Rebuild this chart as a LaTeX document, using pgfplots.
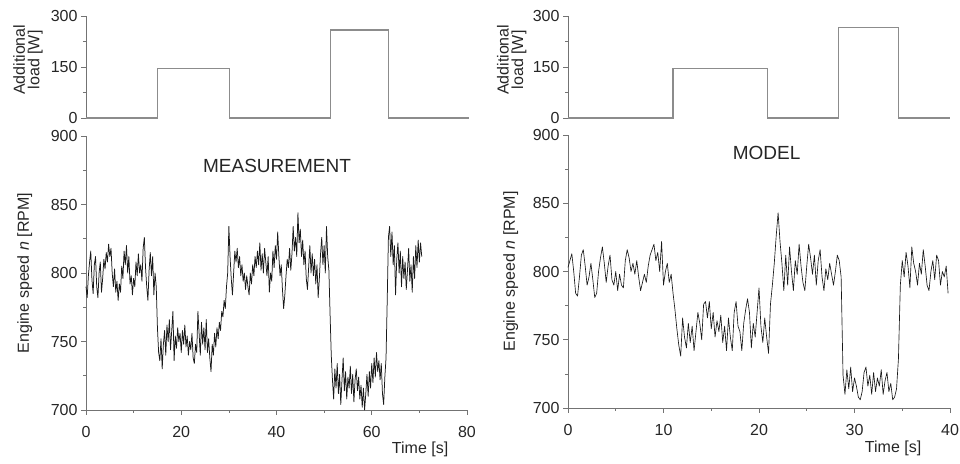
\documentclass[border=0pt]{standalone}
\usepackage{pgfplots}
\pgfplotsset{compat=1.18}
\usepackage{pgfplotstable}
\usepackage{fontspec}
\setmainfont{Liberation Sans}

\pgfplotstableread[row sep=\\]{
t n\\
0 790\\ 0.25 782\\ 0.5 798\\ 0.75 808\\ 1.0 816\\ 1.25 795\\ 1.5 785\\ 1.75 806\\ 2.0 812\\ 2.25 790\\
2.5 782\\ 2.75 800\\ 3.0 808\\ 3.25 786\\ 3.5 796\\ 3.75 810\\ 4.0 803\\ 4.25 815\\ 4.5 808\\ 4.75 821\\
5.0 812\\ 5.25 818\\ 5.5 800\\ 5.75 790\\ 6.0 803\\ 6.25 786\\ 6.5 794\\ 6.75 780\\ 7.0 792\\ 7.25 786\\
7.5 805\\ 7.75 796\\ 8.0 816\\ 8.25 806\\ 8.5 820\\ 8.75 800\\ 9.0 812\\ 9.25 792\\ 9.5 798\\ 9.75 784\\
10.0 796\\ 10.25 790\\ 10.5 808\\ 10.75 798\\ 11.0 814\\ 11.25 800\\ 11.5 806\\ 11.75 794\\ 12.0 818\\ 12.25 826\\
12.5 804\\ 12.75 790\\ 13.0 780\\ 13.25 802\\ 13.5 815\\ 13.75 798\\ 14.0 812\\ 14.25 784\\ 14.5 800\\ 14.75 790\\
15.0 760\\ 15.25 742\\ 15.5 736\\ 15.75 752\\ 16.0 730\\ 16.25 748\\ 16.5 758\\ 16.75 740\\ 17.0 762\\ 17.25 750\\
17.5 766\\ 17.75 744\\ 18.0 758\\ 18.25 772\\ 18.5 736\\ 18.75 754\\ 19.0 745\\ 19.25 760\\ 19.5 750\\ 19.75 756\\
20.0 742\\ 20.25 758\\ 20.5 748\\ 20.75 762\\ 21.0 746\\ 21.25 754\\ 21.5 740\\ 21.75 750\\ 22.0 744\\ 22.25 756\\
22.5 738\\ 22.75 734\\ 23.0 748\\ 23.25 742\\ 23.5 772\\ 23.75 756\\ 24.0 740\\ 24.25 764\\ 24.5 748\\ 24.75 760\\
25.0 744\\ 25.25 766\\ 25.5 742\\ 25.75 752\\ 26.0 738\\ 26.25 728\\ 26.5 748\\ 26.75 740\\ 27.0 756\\ 27.25 746\\
27.5 760\\ 27.75 752\\ 28.0 764\\ 28.25 758\\ 28.5 772\\ 28.75 768\\ 29.0 780\\ 29.25 774\\ 29.5 790\\ 29.75 800\\
30.0 834\\ 30.25 812\\ 30.5 796\\ 30.75 784\\ 31.0 800\\ 31.25 816\\ 31.5 808\\ 31.75 818\\ 32.0 804\\ 32.25 812\\
32.5 798\\ 32.75 806\\ 33.0 794\\ 33.25 800\\ 33.5 788\\ 33.75 798\\ 34.0 790\\ 34.25 784\\ 34.5 800\\ 34.75 792\\
35.0 806\\ 35.25 798\\ 35.5 812\\ 35.75 804\\ 36.0 816\\ 36.25 806\\ 36.5 822\\ 36.75 802\\ 37.0 814\\ 37.25 800\\
37.5 818\\ 37.75 808\\ 38.0 798\\ 38.25 812\\ 38.5 786\\ 38.75 800\\ 39.0 794\\ 39.25 816\\ 39.5 804\\ 39.75 820\\
40.0 810\\ 40.25 830\\ 40.5 812\\ 40.75 798\\ 41.0 806\\ 41.25 788\\ 41.5 774\\ 41.75 784\\ 42.0 798\\ 42.25 810\\
42.5 804\\ 42.75 818\\ 43.0 802\\ 43.25 814\\ 43.5 834\\ 43.75 816\\ 44.0 826\\ 44.25 812\\ 44.5 844\\ 44.75 822\\
45.0 832\\ 45.25 812\\ 45.5 824\\ 45.75 806\\ 46.0 816\\ 46.25 796\\ 46.5 788\\ 46.75 804\\ 47.0 820\\ 47.25 800\\
47.5 814\\ 47.75 798\\ 48.0 810\\ 48.25 792\\ 48.5 806\\ 48.75 782\\ 49.0 796\\ 49.25 814\\ 49.5 826\\ 49.75 806\\
50.0 820\\ 50.25 800\\ 50.5 834\\ 50.75 812\\ 51.0 802\\ 51.25 770\\ 51.5 740\\ 51.75 722\\ 52.0 708\\ 52.25 730\\
52.5 716\\ 52.75 734\\ 53.0 712\\ 53.25 726\\ 53.5 704\\ 53.75 722\\ 54.0 738\\ 54.25 714\\ 54.5 728\\ 54.75 708\\
55.0 724\\ 55.25 716\\ 55.5 732\\ 55.75 712\\ 56.0 726\\ 56.25 706\\ 56.5 722\\ 56.75 730\\ 57.0 714\\ 57.25 724\\
57.5 708\\ 57.75 718\\ 58.0 702\\ 58.25 716\\ 58.5 700\\ 58.75 712\\ 59.0 726\\ 59.25 710\\ 59.5 728\\ 59.75 716\\
60.0 734\\ 60.25 720\\ 60.5 738\\ 60.75 724\\ 61.0 742\\ 61.25 728\\ 61.5 736\\ 61.75 722\\ 62.0 734\\ 62.25 712\\
62.5 704\\ 62.75 724\\ 63.0 738\\ 63.25 780\\ 63.5 826\\ 63.75 834\\ 64.0 812\\ 64.25 830\\ 64.5 806\\ 64.75 820\\
65.0 784\\ 65.25 810\\ 65.5 822\\ 65.75 800\\ 66.0 816\\ 66.25 790\\ 66.5 812\\ 66.75 796\\ 67.0 808\\ 67.25 788\\
67.5 802\\ 67.75 818\\ 68.0 794\\ 68.25 806\\ 68.5 786\\ 68.75 812\\ 69.0 796\\ 69.25 820\\ 69.5 804\\ 69.75 824\\
70.0 808\\ 70.25 822\\ 70.5 812\\
}\measdata

\pgfplotstableread[row sep=\\]{
t n\\
0.0 803\\ 0.2 808\\ 0.4 813\\ 0.6 800\\ 0.8 784\\ 1.0 782\\ 1.2 796\\ 1.4 812\\ 1.6 816\\ 1.8 804\\
2.0 790\\ 2.2 796\\ 2.4 806\\ 2.6 794\\ 2.8 781\\ 3.0 784\\ 3.2 800\\ 3.4 810\\ 3.6 818\\ 3.8 806\\
4.0 792\\ 4.2 804\\ 4.4 812\\ 4.6 794\\ 4.8 790\\ 5.0 800\\ 5.2 786\\ 5.4 798\\ 5.6 790\\ 5.8 788\\
6.0 808\\ 6.2 816\\ 6.4 810\\ 6.6 800\\ 6.8 806\\ 7.0 798\\ 7.2 808\\ 7.4 796\\ 7.6 786\\ 7.8 792\\
8.0 798\\ 8.2 792\\ 8.4 804\\ 8.6 812\\ 8.8 816\\ 9.0 820\\ 9.2 808\\ 9.4 814\\ 9.6 800\\ 9.8 822\\
10.0 790\\ 10.2 800\\ 10.4 806\\ 10.6 792\\ 10.8 798\\ 11.0 784\\ 11.2 772\\ 11.4 758\\ 11.6 746\\ 11.8 738\\
12.0 766\\ 12.2 752\\ 12.4 744\\ 12.6 762\\ 12.8 748\\ 13.0 760\\ 13.2 742\\ 13.4 756\\ 13.6 770\\ 13.8 762\\
14.0 750\\ 14.2 776\\ 14.4 778\\ 14.6 766\\ 14.8 778\\ 15.0 758\\ 15.2 770\\ 15.4 752\\ 15.6 764\\ 15.8 756\\
16.0 768\\ 16.2 748\\ 16.4 760\\ 16.6 742\\ 16.8 766\\ 17.0 752\\ 17.2 742\\ 17.4 770\\ 17.6 778\\ 17.8 760\\
18.0 756\\ 18.2 742\\ 18.4 762\\ 18.6 772\\ 18.8 780\\ 19.0 770\\ 19.2 744\\ 19.4 762\\ 19.6 752\\ 19.8 770\\
20.0 788\\ 20.2 760\\ 20.4 748\\ 20.6 766\\ 20.8 752\\ 21.0 740\\ 21.2 776\\ 21.4 790\\ 21.6 806\\ 21.8 826\\
22.0 843\\ 22.2 822\\ 22.4 806\\ 22.6 786\\ 22.8 812\\ 23.0 790\\ 23.2 818\\ 23.4 800\\ 23.6 786\\ 23.8 808\\
24.0 798\\ 24.2 820\\ 24.4 804\\ 24.6 792\\ 24.8 786\\ 25.0 804\\ 25.2 820\\ 25.4 810\\ 25.6 798\\ 25.8 812\\
26.0 790\\ 26.2 808\\ 26.4 816\\ 26.6 796\\ 26.8 786\\ 27.0 802\\ 27.2 794\\ 27.4 806\\ 27.6 798\\ 27.8 790\\
28.0 800\\ 28.2 812\\ 28.4 808\\ 28.6 796\\ 28.8 724\\ 29.0 710\\ 29.2 728\\ 29.4 714\\ 29.6 730\\ 29.8 712\\
30.0 722\\ 30.2 716\\ 30.4 708\\ 30.6 706\\ 30.8 712\\ 31.0 726\\ 31.2 730\\ 31.4 716\\ 31.6 724\\ 31.8 710\\
32.0 726\\ 32.2 712\\ 32.4 722\\ 32.6 716\\ 32.8 728\\ 33.0 710\\ 33.2 720\\ 33.4 726\\ 33.6 712\\ 33.8 718\\
34.0 706\\ 34.2 708\\ 34.4 714\\ 34.6 736\\ 34.8 790\\ 35.0 808\\ 35.2 796\\ 35.4 814\\ 35.6 804\\ 35.8 788\\
36.0 818\\ 36.2 806\\ 36.4 800\\ 36.6 790\\ 36.8 806\\ 37.0 798\\ 37.2 816\\ 37.4 804\\ 37.6 790\\ 37.8 786\\
38.0 800\\ 38.2 808\\ 38.4 794\\ 38.6 812\\ 38.8 808\\ 39.0 790\\ 39.2 800\\ 39.4 796\\ 39.6 804\\ 39.8 784\\
}\modeldata

\pgfplotstableread[row sep=\\]{
t P\\
0 0\\ 15 0\\ 15 145\\ 30.2 145\\ 30.2 0\\ 51.3 0\\ 51.3 259\\ 63.6 259\\ 63.6 0\\ 80.5 0\\
}\loadmeas

\pgfplotstableread[row sep=\\]{
t P\\
0 0\\ 11 0\\ 11 145\\ 20.9 145\\ 20.9 0\\ 28.3 0\\ 28.3 265\\ 34.6 265\\ 34.6 0\\ 40 0\\
}\loadmodel

\definecolor{axcol}{gray}{0.45}
\definecolor{txtcol}{gray}{0.15}
\definecolor{loadcol}{gray}{0.55}

\pgfplotsset{
  base/.style={
    scale only axis,
    axis lines*=left,
    axis line style={axcol, line width=0.8bp},
    tick style={axcol, line width=0.7bp},
    tick align=outside,
    major tick length=5bp,
    minor tick length=3bp,
    ticklabel style={font=\fontsize{16bp}{18bp}\selectfont, text=txtcol},
    label style={font=\fontsize{16bp}{16bp}\selectfont, text=txtcol},
    /pgf/number format/assume math mode=true,
    clip=false,
  },
  loadax/.style={
    base,
    axis x line=none,
    axis y line*=left,
    ymin=0, ymax=300,
    ytick={0,150,300},
    minor ytick={75,225},
    height=102bp,
    ylabel={Additional\\load [W]},
    ylabel style={align=center, anchor=center, font=\fontsize{16bp}{14.5bp}\selectfont},
  },
  speedax/.style={
    base,
    ymin=700, ymax=900,
    ytick={700,750,800,850,900},
    minor y tick num=1,
    minor x tick num=1,
    xticklabel style={yshift=-8bp},
    ylabel={Engine speed \textit{n} [RPM]},
    ylabel style={anchor=center},
    xlabel={Time [s]},
  },
}

\begin{document}
\begin{tikzpicture}
\path[use as bounding box] (0,0) rectangle (960bp,464bp);

% ---------- left: measurement ----------
\begin{axis}[loadax, at={(86bp,346bp)}, anchor=south west, width=381bp,
  xmin=0, xmax=80,
  ylabel style={at={(axis description cs:-0.152,0.57)}}]
  \addplot[loadcol, line width=1.2bp] table[x=t, y=P] {\loadmeas};
\end{axis}

\begin{axis}[speedax, at={(86bp,54bp)}, anchor=south west, width=381bp, height=274bp,
  xmin=0, xmax=80, xtick={0,20,40,60,80},
  ylabel style={at={(axis description cs:-0.161,0.5)}},
  xlabel style={at={(axis description cs:0.877,0)}, anchor=center, yshift=-39bp}]
  \addplot[black!90, line width=0.75bp, line join=round] table[x=t, y=n] {\measdata};
  \node[font=\fontsize{19bp}{22bp}\selectfont, text=txtcol] at (axis cs:40.1,878) {MEASUREMENT};
\end{axis}

% ---------- right: model ----------
\begin{axis}[loadax, at={(568bp,346bp)}, anchor=south west, width=382bp,
  xmin=0, xmax=40,
  ylabel style={at={(axis description cs:-0.147,0.57)}}]
  \addplot[loadcol, line width=1.2bp] table[x=t, y=P] {\loadmodel};
\end{axis}

\begin{axis}[speedax, at={(568bp,56bp)}, anchor=south west, width=382bp, height=273bp,
  xmin=0, xmax=40, xtick={0,10,20,30,40},
  ylabel style={at={(axis description cs:-0.150,0.5)}},
  xlabel style={at={(axis description cs:0.851,0)}, anchor=center, yshift=-40bp}]
  \addplot[black!90, line width=0.65bp, line join=round] table[x=t, y=n] {\modeldata};
  \node[font=\fontsize{19bp}{22bp}\selectfont, text=txtcol] at (axis cs:20.8,887) {MODEL};
\end{axis}
\end{tikzpicture}
\end{document}
